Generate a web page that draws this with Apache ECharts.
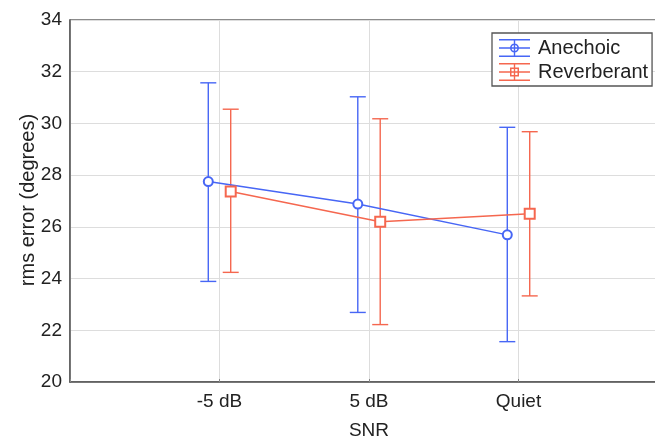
<!DOCTYPE html>
<html>
<head>
<meta charset="utf-8">
<script src="https://cdn.jsdelivr.net/npm/echarts@6/dist/echarts.min.js"></script>
<style>
  html, body { margin: 0; padding: 0; background: #fff; }
  #main { width: 655px; height: 439px; }
</style>
</head>
<body>
<div id="main"></div>
<script>
// categories on x (positions 1..3)
var categories = ['-5 dB', '5 dB', 'Quiet'];

// Anechoic: mean and error bar ends
var anechoicMean = [27.75, 26.88, 25.69];
var anechoicLow  = [23.89, 22.69, 21.56];
var anechoicHigh = [31.57, 31.03, 29.85];

// Reverberant: mean and error bar ends
var reverbMean = [27.37, 26.20, 26.51];
var reverbLow  = [24.24, 22.22, 23.33];
var reverbHigh = [30.55, 30.18, 29.68];

var blue = '#4766f5';
var red = '#f5674f';
var font = 'Liberation Sans, Arial, sans-serif';
var offset = 0.075; // side-by-side dodge

function pts(mean, dx) {
  return mean.map(function (v, i) { return [i + 1 + dx, v]; });
}
function bars(low, high, dx) {
  return low.map(function (v, i) { return [i + 1 + dx, v, high[i]]; });
}

function errorBar(color) {
  return function (params, api) {
    var lo = api.coord([api.value(0), api.value(1)]);
    var hi = api.coord([api.value(0), api.value(2)]);
    var w = 8;
    var st = { stroke: color, lineWidth: 1.4 };
    return {
      type: 'group',
      children: [
        { type: 'line', shape: { x1: lo[0], y1: lo[1], x2: hi[0], y2: hi[1] }, style: st },
        { type: 'line', shape: { x1: lo[0] - w, y1: lo[1], x2: lo[0] + w, y2: lo[1] }, style: st },
        { type: 'line', shape: { x1: hi[0] - w, y1: hi[1], x2: hi[0] + w, y2: hi[1] }, style: st }
      ]
    };
  };
}

var iconLines = 'M0 0H31V1.4H0Z M0 8.3H31V9.7H0Z M0 16.6H31V18H0Z M14.8 0H16.2V18H14.8Z ';
var circleIcon = 'path://' + iconLines +
  'M11 9A4.5 4.5 0 1 1 20 9A4.5 4.5 0 1 1 11 9Z M12.6 9A2.9 2.9 0 1 0 18.4 9A2.9 2.9 0 1 0 12.6 9Z';
var squareIcon = 'path://' + iconLines +
  'M11 4.5H20V13.5H11Z M12.5 6V12H18.5V6Z';

var chart = echarts.init(document.getElementById('main'));
chart.setOption({
  backgroundColor: '#fff',
  animation: false,
  grid: {
    left: 70, right: -13, top: 20, bottom: 57,
    outerBoundsMode: 'none', containLabel: false,
    show: true, borderColor: '#666', borderWidth: 1.3
  },
  // y-axis title, placed by hand so it sits close to the tick labels
  graphic: [{
    type: 'text', x: 28, y: 200, rotation: Math.PI / 2,
    style: {
      text: 'rms error (degrees)', fontFamily: font, fontSize: 20, fill: '#222',
      align: 'center', verticalAlign: 'middle'
    }
  }],
  legend: {
    left: 492, top: 33,
    orient: 'vertical',
    itemWidth: 31, itemHeight: 18, itemGap: 4,
    padding: [5, 4, 4, 7],
    borderColor: '#555', borderWidth: 1.3,
    backgroundColor: '#fff',
    textStyle: { fontFamily: font, fontSize: 20, color: '#222', padding: [0, 0, 0, 3] },
    data: [
      { name: 'Anechoic', icon: circleIcon, itemStyle: { color: blue, borderWidth: 0 } },
      { name: 'Reverberant', icon: squareIcon, itemStyle: { color: red, borderWidth: 0 } }
    ]
  },
  xAxis: {
    type: 'value', min: 0, max: 4, interval: 1,
    name: 'SNR', nameLocation: 'middle', nameGap: 39,
    nameTextStyle: { fontFamily: font, fontSize: 19, color: '#222' },
    axisLine: { lineStyle: { color: '#555', width: 1.5 } },
    axisTick: { show: true, inside: true, length: 3, lineStyle: { color: '#888' } },
    axisLabel: {
      fontFamily: font, fontSize: 19, color: '#222', margin: 10,
      formatter: function (v) { return categories[v - 1] || ''; }
    },
    splitLine: { show: true, lineStyle: { color: '#ddd', width: 1 } }
  },
  yAxis: {
    type: 'value', min: 20, max: 34, interval: 2,
    axisLine: { show: true, lineStyle: { color: '#555', width: 1.5 } },
    axisTick: { show: false },
    axisLabel: { fontFamily: font, fontSize: 19, color: '#222', margin: 8 },
    splitLine: { show: true, lineStyle: { color: '#ddd', width: 1 } }
  },
  series: [
    {
      type: 'custom', name: 'Anechoic bars', renderItem: errorBar(blue),
      data: bars(anechoicLow, anechoicHigh, -offset), z: 2, silent: true
    },
    {
      type: 'custom', name: 'Reverberant bars', renderItem: errorBar(red),
      data: bars(reverbLow, reverbHigh, offset), z: 2, silent: true
    },
    {
      type: 'line', name: 'Anechoic', data: pts(anechoicMean, -offset),
      symbol: 'emptyCircle', symbolSize: 9, z: 3,
      lineStyle: { color: blue, width: 1.5 },
      itemStyle: { color: blue, borderWidth: 2 }
    },
    {
      type: 'line', name: 'Reverberant', data: pts(reverbMean, offset),
      symbol: 'emptyRect', symbolSize: 10, z: 3,
      lineStyle: { color: red, width: 1.5 },
      itemStyle: { color: red, borderWidth: 1.8 }
    }
  ]
});
</script>
</body>
</html>
